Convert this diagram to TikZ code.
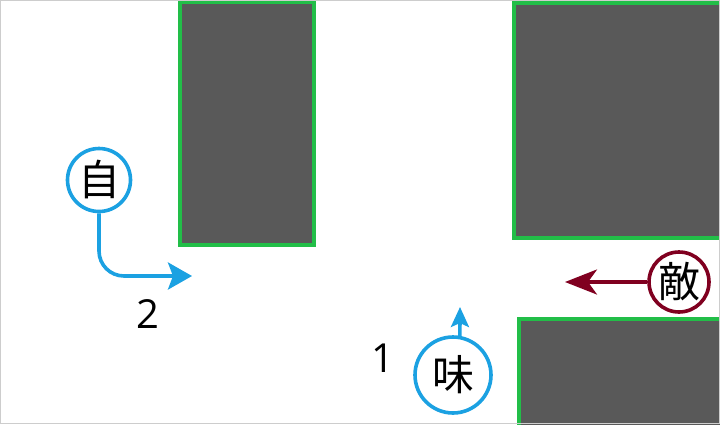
\documentclass[tikz,border=0pt]{standalone}
\usepackage{fontspec}
\setmainfont{Open Sans}
\newfontfamily\cjk{Noto Sans CJK JP}
\usetikzlibrary{arrows.meta}
\definecolor{wallfill}{RGB}{89,89,89}
\definecolor{wallline}{RGB}{34,190,72}
\definecolor{allyblue}{RGB}{27,161,226}
\definecolor{enemyred}{RGB}{128,0,32}
\definecolor{frame}{RGB}{205,205,205}
\tikzset{
  wall/.style={fill=wallfill, draw=wallline, line width=4pt},
  unit/.style={circle, draw=#1, line width=3.6pt, fill=white, inner sep=0pt, font=\cjk\fontsize{42}{42}\selectfont},
  move/.style={draw=#1, line width=3.6pt, -{Stealth[inset=5pt]}},
  lbl/.style={font=\fontsize{40}{40}\selectfont, inner sep=0pt}
}
\begin{document}
\begin{tikzpicture}[x=1pt,y=-1pt]
\useasboundingbox (0,0) rectangle (720,424);
\fill[white] (0,0) rectangle (720,424);
% walls
\draw[wall] (180,2) rectangle (313.5,245);
\draw[wall] (514,2.5) rectangle (724,238);
\draw[wall] (519,319) rectangle (724,430);
% units
\node[unit=allyblue, minimum size=63pt] (ji) at (99,180) {自};
\node[unit=allyblue, minimum size=76pt] (mi) at (453,375) {味};
\node[unit=enemyred, minimum size=60pt] (teki) at (679,282) {敵};
% arrow targets
\coordinate (t2) at (192,276);
\coordinate (t1) at (460,307);
\coordinate (t3) at (565,282);
% movements
\draw[move=allyblue, rounded corners=25pt, {}-{Stealth[length=24pt,width=27pt,inset=5pt]}] (ji.south) |- (t2);
\draw[move=allyblue, {}-{Stealth[length=20pt,width=18pt,inset=4pt]}] (mi.80) -- (t1);
\draw[move=enemyred, {}-{Stealth[length=32pt,width=25pt,inset=9pt]}] (teki.west) -- (t3);
% labels
\node[lbl] (n2) at (148,314) {2};
\node[lbl] (n1) at (383,358) {1};
% frame
\draw[frame, line width=1.2pt] (0.6,0.6) rectangle (719.4,423.4);
\end{tikzpicture}
\end{document}
